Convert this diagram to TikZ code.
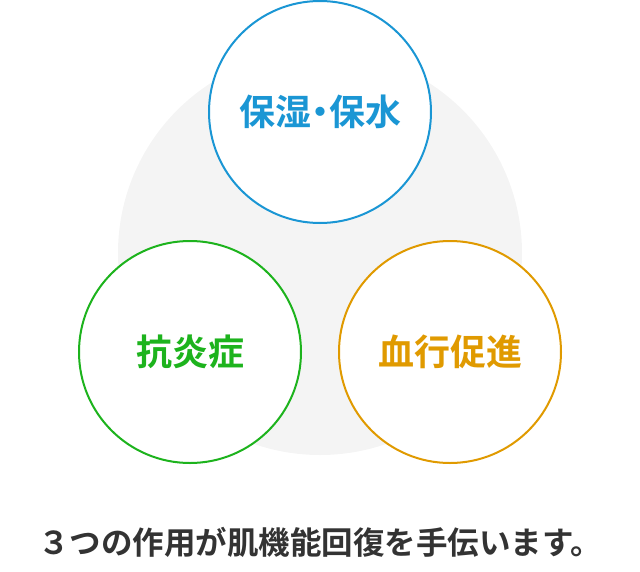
\documentclass[tikz,border=0pt]{standalone}
\usepackage{fontspec}
\newfontfamily\jpfont{Noto Sans CJK JP}[BoldFont={Noto Sans CJK JP Bold}]
\newfontfamily\jppfont{Noto Sans CJK JP}[BoldFont={Noto Sans CJK JP Bold}, RawFeature={+palt}]
\usepackage{tikz}
\usepackage{xcolor}
\definecolor{effblue}{HTML}{1A96D4}
\definecolor{effgreen}{HTML}{1DB31D}
\definecolor{efforange}{HTML}{E09A00}
\definecolor{backgray}{HTML}{F4F4F4}
\definecolor{textgray}{HTML}{333333}

\begin{document}
\begin{tikzpicture}[x=1pt, y=-1pt,
  effect/.style={circle, draw, line width=2pt, fill=white, inner sep=0pt,
    minimum size=222pt, font=\jppfont\bfseries\fontsize{36}{36}\selectfont}]
  \useasboundingbox (0,0) rectangle (640,571);

  % Background
  \fill[backgray] (320,253) circle (202);

  % Three effects
  \node[effect, draw=effblue, text=effblue] (moist) at (320,112) {保湿・保水};
  \node[effect, draw=effgreen, text=effgreen] (calm) at (190,352) {抗炎症};
  \node[effect, draw=efforange, text=efforange] (blood) at (450,352) {血行促進};

  % Caption
  \node[text=textgray, font=\jpfont\bfseries\fontsize{31.5}{31.5}\selectfont] (caption) at (320,542) {３つの作用が肌機能回復を手伝います。};
\end{tikzpicture}
\end{document}
